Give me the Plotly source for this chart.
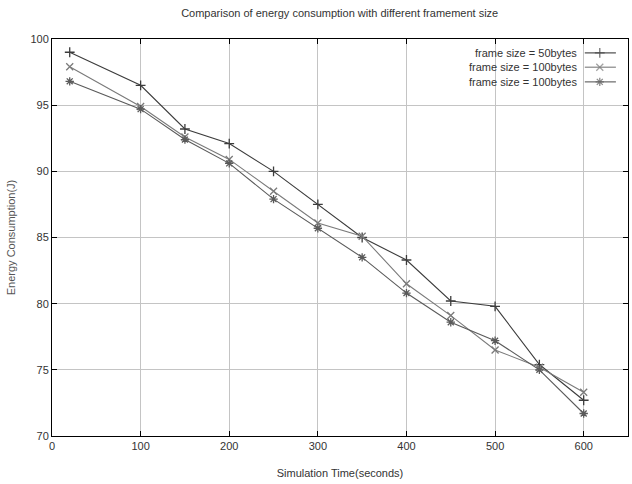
import plotly.graph_objects as go

x_time = [20, 100, 150, 200, 250, 300, 350, 400, 450, 500, 550, 600]
energy_50 = [99.0, 96.5, 93.2, 92.1, 90.0, 87.5, 85.0, 83.3, 80.2, 79.8, 75.4, 72.7]
energy_100a = [97.9, 94.9, 92.6, 90.9, 88.5, 86.1, 85.1, 81.5, 79.1, 76.5, 75.2, 73.3]
energy_100b = [96.8, 94.7, 92.4, 90.6, 87.9, 85.7, 83.5, 80.8, 78.6, 77.2, 75.0, 71.7]
series_names = ["frame size = 50bytes", "frame size = 100bytes", "frame size = 100bytes"]
x_ticks = [0, 100, 200, 300, 400, 500, 600]
y_ticks = [70, 75, 80, 85, 90, 95, 100]

FONT = "Liberation Sans Narrow, Liberation Sans, Arial, sans-serif"
colors = ["#3c3c3c", "#7a7a7a", "#5a5a5a"]
symbols = ["cross-thin-open", "x-thin-open", "asterisk-open"]
series = [energy_50, energy_100a, energy_100b]

fig = go.Figure()
for ys, c, s, n in zip(series, colors, symbols, series_names):
    fig.add_trace(go.Scatter(
        x=x_time, y=ys, mode="lines+markers", name=n,
        line=dict(color=c, width=1.1),
        marker=dict(symbol=s, size=7, color=c, line=dict(color=c, width=1.3)),
        showlegend=False,
    ))

# manual gnuplot-style legend (text, then sample)
leg_y = [0.965, 0.929, 0.892]
for i, (c, s, n) in enumerate(zip(colors, symbols, series_names)):
    fig.add_trace(go.Scatter(
        x=[0.925, 0.951, 0.979], y=[leg_y[i]] * 3, xaxis="x2", yaxis="y2",
        mode="lines+markers", line=dict(color=c, width=1.1),
        marker=dict(symbol=s, size=[0, 7, 0], color=c, line=dict(color=c, width=1.3)),
        showlegend=False, hoverinfo="skip",
    ))
    fig.add_annotation(x=0.915, y=leg_y[i], xref="paper", yref="paper",
                       text=n, showarrow=False, xanchor="right", yanchor="middle",
                       font=dict(family=FONT, size=11, color="#333"))

fig.update_layout(
    width=632, height=484,
    margin=dict(l=52, r=4, t=39, b=48),
    paper_bgcolor="white", plot_bgcolor="white",
    title=dict(text="Comparison of energy consumption with different framement size",
               x=0.5375, xanchor="center", y=0.973, yanchor="middle",
               font=dict(family=FONT, size=11, color="#333")),
    font=dict(family=FONT, size=11, color="#333"),
    xaxis=dict(range=[0, 650], tickvals=x_ticks, ticks="inside", ticklen=5,
               tickcolor="black", showline=True, linecolor="black", linewidth=1,
               mirror="ticks", showgrid=True, gridcolor="#c4c4c4", gridwidth=1,
               zeroline=False, tickfont=dict(family=FONT, size=11, color="#333"),
               title=dict(text="Simulation Time(seconds)", standoff=18,
                          font=dict(family=FONT, size=11, color="#333"))),
    yaxis=dict(range=[70, 100], tickvals=y_ticks, ticks="inside", ticklen=5,
               tickcolor="black", showline=True, linecolor="black", linewidth=1,
               mirror="ticks", showgrid=True, gridcolor="#c4c4c4", gridwidth=1,
               zeroline=False, tickfont=dict(family=FONT, size=11, color="#333"),
               title=dict(text="Energy Consumption(J)", standoff=12,
                          font=dict(family=FONT, size=11, color="#555"))),
    xaxis2=dict(range=[0, 1], overlaying="x", anchor="y2", visible=False),
    yaxis2=dict(range=[0, 1], overlaying="y", anchor="x2", visible=False),
)

fig.write_html("out.html")
